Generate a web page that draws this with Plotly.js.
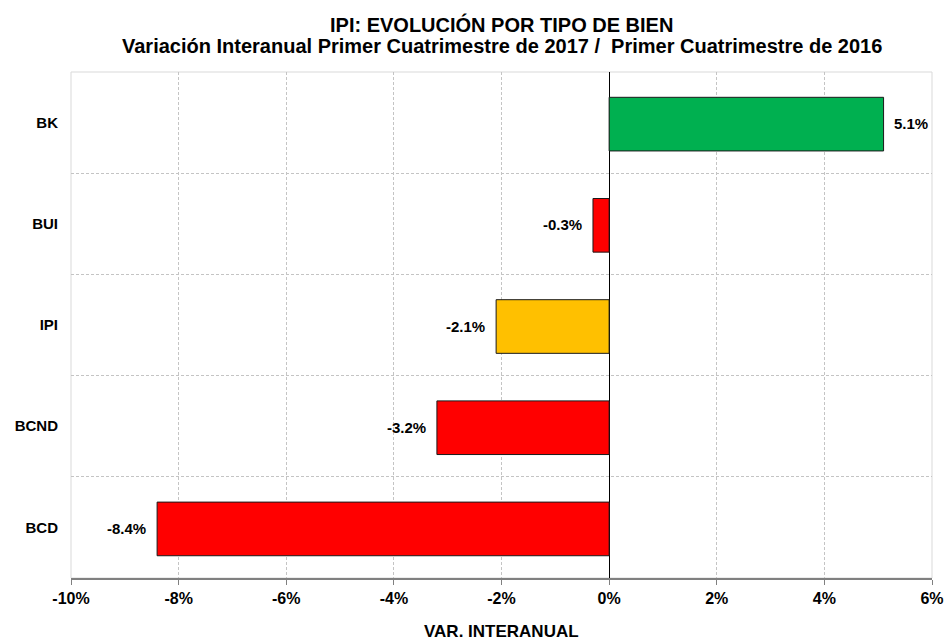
<!DOCTYPE html>
<html>
<head>
<meta charset="utf-8">
<script src="https://cdn.plot.ly/plotly-3.0.1.min.js"></script>
<style>html,body{margin:0;padding:0;background:#fff;}#chart{width:948px;height:642px;}</style>
</head>
<body>
<div id="chart"></div>
<script>
const categories = ['BK', 'BUI', 'IPI', 'BCND', 'BCD'];
const values = [5.1, -0.3, -2.1, -3.2, -8.4];
const barColors = ['#00B050', '#FF0000', '#FFC000', '#FF0000', '#FF0000'];
const tickValues = [-10, -8, -6, -4, -2, 0, 2, 4, 6];
const tickLabels = ['-10%', '-8%', '-6%', '-4%', '-2%', '0%', '2%', '4%', '6%'];
const titleLine1 = 'IPI: EVOLUCIÓN POR TIPO DE BIEN';
const titleLine2 = 'Variación Interanual Primer Cuatrimestre de 2017 /  Primer Cuatrimestre de 2016';
const xTitle = 'VAR. INTERANUAL';

const font = 'Arial, "Liberation Sans", sans-serif';

const trace = {
  type: 'bar',
  orientation: 'h',
  y: categories,
  x: values,
  width: 0.53,
  offset: -0.25,
  marker: {color: barColors, line: {color: '#1a1a1a', width: 1}},
  hoverinfo: 'skip'
};

const valueLabels = categories.map((c, i) => ({
  x: values[i], y: c, xref: 'x', yref: 'y',
  text: '<b>' + values[i].toFixed(1) + '%</b>',
  showarrow: false,
  xanchor: values[i] >= 0 ? 'left' : 'right',
  xshift: values[i] >= 0 ? 8 : -9,
  yshift: -1,
  font: {family: font, size: 15, color: '#000'}
}));

const titleAnns = [
  {text: '<b>' + titleLine1 + '</b>', x: 0.5, y: 1.0939, xref: 'paper', yref: 'paper',
   xanchor: 'center', yanchor: 'middle', showarrow: false,
   font: {family: font, size: 20, color: '#000'}},
  {text: '<b>' + titleLine2 + '</b>', x: 0.5, y: 1.0514, xref: 'paper', yref: 'paper',
   xanchor: 'center', yanchor: 'middle', showarrow: false,
   font: {family: font, size: 20, color: '#000'}},
  {text: '<b>' + xTitle + '</b>', x: 0.5, y: -0.1067, xref: 'paper', yref: 'paper',
   xanchor: 'center', yanchor: 'middle', showarrow: false,
   font: {family: font, size: 17, color: '#000'}}
];

const layout = {
  width: 948, height: 642,
  margin: {l: 71, r: 16, t: 72, b: 64},
  paper_bgcolor: '#fff', plot_bgcolor: '#fff',
  showlegend: false,
  font: {family: font, color: '#000'},
  xaxis: {
    range: [-10, 6],
    tickvals: tickValues,
    ticktext: tickLabels,
    tickfont: {family: font, size: 16, color: '#000', weight: 'bold'},
    ticks: 'outside', ticklen: 5, tickcolor: '#808080', tickwidth: 1,
    showline: true, linecolor: '#808080', linewidth: 2,
    showgrid: true, gridcolor: '#c4c4c4', griddash: '3px,2px', gridwidth: 1,
    zeroline: true, zerolinecolor: '#000', zerolinewidth: 1,
    fixedrange: true
  },
  yaxis: {
    type: 'category',
    autorange: 'reversed',
    tickson: 'boundaries',
    ticks: '',
    showgrid: true, gridcolor: '#c4c4c4', griddash: '3px,2px', gridwidth: 1,
    showline: false,
    tickfont: {family: font, size: 15, color: '#000', weight: 'bold'},
    ticklabelstandoff: 12,
    fixedrange: true
  },
  annotations: valueLabels.concat(titleAnns),
  shapes: [
    {type: 'rect', xref: 'paper', yref: 'paper', x0: 0, x1: 1, y0: 0, y1: 1,
     line: {color: '#d9d9d9', width: 1}, layer: 'below'}
  ]
};

Plotly.newPlot('chart', [trace], layout, {displayModeBar: false, staticPlot: true});
</script>
</body>
</html>
